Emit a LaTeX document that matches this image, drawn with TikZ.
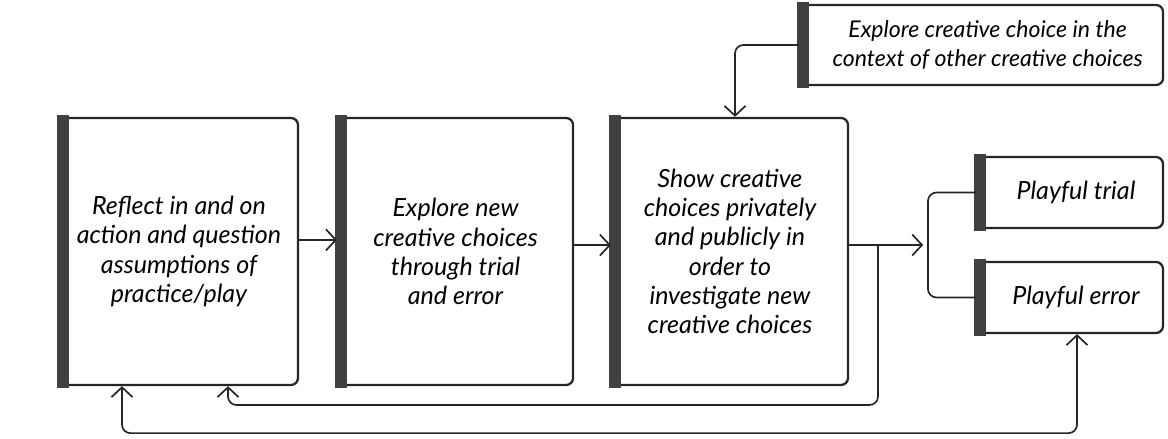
\documentclass[tikz,border=0pt]{standalone}
\usepackage{fontspec}
\setmainfont{Lato}
\usetikzlibrary{arrows.meta}

\begin{document}
\begin{tikzpicture}
	\tikzstyle{stage}=[draw=black!85, line width=1.6pt, rounded corners=5pt, align=center, inner sep=0pt, font=\itshape\fontsize{17.8}{20.8}\selectfont]
	\tikzstyle{link}=[draw=black!85, line width=1.2pt, rounded corners=6pt]
	\tikzstyle{tip}=[-{Straight Barb[length=7pt,width=15pt,line width=1.2pt]}]
	\useasboundingbox (0,0) rectangle (29.2,10.975);

	\node [stage, minimum width=5.95cm, minimum height=6.675cm] (reflect) at (4.475,4.6875) {Reflect in and on\\action and question\\assumptions of\\practice/play};
	\node [stage, minimum width=5.875cm, minimum height=6.675cm] (explore) at (11.39,4.6875) {Explore new\\creative choices\\through trial\\and error};
	\node [stage, minimum width=5.9cm, minimum height=6.675cm] (show) at (18.25,4.6875) {Show creative\\choices privately\\and publicly in\\order to\\investigate new\\creative choices};
	\node [stage, minimum width=9.075cm, minimum height=2cm, font=\itshape\fontsize{16.4}{21}\selectfont] (context) at (24.54,9.85) {\hspace{0.3cm}Explore creative choice in the\\\hspace{0.3cm}context of other creative choices};
	\node [stage, minimum width=4.65cm, minimum height=1.775cm] (trial) at (26.75,6.1625) {\hspace{0.3cm}Playful trial};
	\node [stage, minimum width=4.65cm, minimum height=1.775cm] (error) at (26.75,3.5375) {\hspace{0.3cm}Playful error};

	% dark bars on the left side
	\foreach \n in {reflect,explore,show,context,trial,error}
		\fill [black!75] ([shift={(-0.04cm,0.04cm)}]\n.north west) rectangle ([shift={(0.26cm,-0.04cm)}]\n.south west);

	\coordinate (fork) at (23.2,4.85);
	\coordinate (split) at (21.95,4.85);

	\draw [link, tip] ([yshift=0.29cm]reflect.east) -- ([yshift=0.29cm]explore.west);
	\draw [link, tip] ([yshift=0.16cm]explore.east) -- ([yshift=0.16cm]show.west);
	\draw [link, tip] ([yshift=0.16cm]show.east) -- ([xshift=-0.12cm]fork);
	\draw [link] (trial.west) -| (fork) |- (error.west);
	\draw [link, tip] (context.west) -| ([xshift=0.125cm]show.north);

	% feedback loops
	\draw [link, tip] (split) -- (split |- 0,0.85) -| ([xshift=1.225cm]reflect.south);
	\draw [link, {Straight Barb[length=7pt,width=15pt,line width=1.2pt]}-{Straight Barb[length=7pt,width=15pt,line width=1.2pt]}] ([xshift=-1.425cm]reflect.south) -- ++(0,-1.175) -| ([xshift=0.175cm]error.south);
\end{tikzpicture}
\end{document}
